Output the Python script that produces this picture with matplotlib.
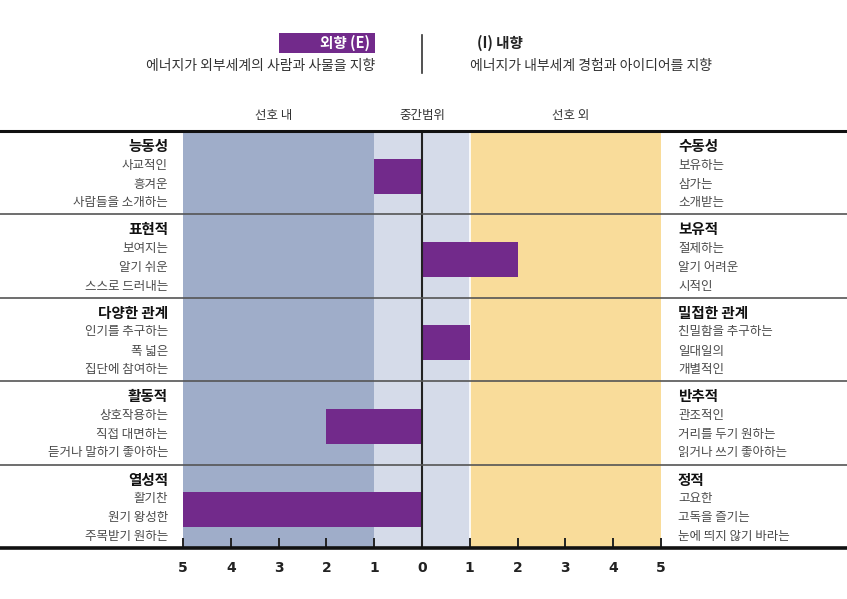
import matplotlib.pyplot as plt
import matplotlib.transforms as mtransforms
from matplotlib.patches import Rectangle

plt.rcParams['font.family'] = ['Noto Sans CJK KR', 'DejaVu Sans']

# 외향(E) 쪽은 음수, 내향(I) 쪽은 양수
scores = [-1, 2, 1, -2, -5]

left_titles = ['능동성', '표현적', '다양한 관계', '활동적', '열성적']
left_words = [
    ['사교적인', '흥겨운', '사람들을 소개하는'],
    ['보여지는', '알기 쉬운', '스스로 드러내는'],
    ['인기를 추구하는', '폭 넓은', '집단에 참여하는'],
    ['상호작용하는', '직접 대면하는', '듣거나 말하기 좋아하는'],
    ['활기찬', '원기 왕성한', '주목받기 원하는'],
]
right_titles = ['수동성', '보유적', '밀접한 관계', '반추적', '정적']
right_words = [
    ['보유하는', '삼가는', '소개받는'],
    ['절제하는', '알기 어려운', '시적인'],
    ['친밀함을 추구하는', '일대일의', '개별적인'],
    ['관조적인', '거리를 두기 원하는', '읽거나 쓰기 좋아하는'],
    ['고요한', '고독을 즐기는', '눈에 띄지 않기 바라는'],
]
ticks = [-5, -4, -3, -2, -1, 0, 1, 2, 3, 4, 5]
tick_labels = ['5', '4', '3', '2', '1', '0', '1', '2', '3', '4', '5']
zone_labels = ['선호 내', '중간범위', '선호 외']
zone_centers = [-3.1, 0, 3.1]

purple = '#722A8B'
blue = '#9FADC9'
pale = '#D5DBE9'
yellow = '#F9DC9A'

W, H = 847, 599
fig = plt.figure(figsize=(W / 100, H / 100), dpi=100)
ax = fig.add_axes([183 / W, 1 - 548 / H, 478 / W, 417 / H])
ax.set_xlim(-5, 5)
ax.set_ylim(5, 0)

# 배경 영역
ax.axvspan(-5, -1, color=blue, lw=0, zorder=0)
ax.axvspan(-1, 1, color=pale, lw=0, zorder=0)
ax.axvspan(1, 5, color=yellow, lw=0, zorder=0)
ax.axvline(1, color='white', lw=1.2, zorder=1)

n = len(scores)
rows = list(range(n))
ax.barh([r + 0.54 for r in rows], scores, height=0.42, color=purple, zorder=2)
ax.axvline(0, color='#222222', lw=1.5, zorder=3)

for s in ax.spines.values():
    s.set_visible(False)

ax.set_xticks(ticks)
ax.set_xticklabels(tick_labels, fontfamily='DejaVu Sans', fontweight='bold', fontsize=10, color='#222222')
ax.tick_params(axis='x', direction='in', length=7, width=1.4, color='#222222', pad=9)
ax.set_yticks([])

trans = mtransforms.blended_transform_factory(fig.transFigure, ax.transData)
# 가로 구분선
ax.plot([0, 1], [0, 0], transform=trans, color='#111111', lw=2.2, clip_on=False, zorder=4)
for r in rows[1:]:
    ax.plot([0, 1], [r, r], transform=trans, color='#555555', lw=1.2, clip_on=False, zorder=4)
ax.plot([0, 1], [n, n], transform=trans, color='#111111', lw=2.6, clip_on=False, zorder=4)

# 행 라벨
offs = [0.18, 0.41, 0.64, 0.86]
for r in rows:
    ax.text(168 / W, r + offs[0], left_titles[r], transform=trans, ha='right', va='center',
            fontsize=10.5, fontweight='bold', color='#111111')
    ax.text(678 / W, r + offs[0], right_titles[r], transform=trans, ha='left', va='center',
            fontsize=10.5, fontweight='bold', color='#111111')
    for k in range(3):
        ax.text(168 / W, r + offs[k + 1], left_words[r][k], transform=trans, ha='right',
                va='center', fontsize=9, color='#4a4a4a')
        ax.text(678 / W, r + offs[k + 1], right_words[r][k], transform=trans, ha='left',
                va='center', fontsize=9, color='#4a4a4a')

# 영역 라벨
ztrans = mtransforms.blended_transform_factory(ax.transData, fig.transFigure)
for lab, cx in zip(zone_labels, zone_centers):
    ax.text(cx, 1 - 115 / H, lab, transform=ztrans, ha='center', va='center',
            fontsize=9, color='#333333')

# 상단 범례
fig.patches.append(Rectangle((279 / W, 1 - 53 / H), 96 / W, 20 / H, transform=fig.transFigure,
                             color=purple, lw=0))
fig.text(370 / W, 1 - 43 / H, '외향 (E)', ha='right', va='center', fontsize=10.5,
         fontweight='bold', color='white')
fig.text(375 / W, 1 - 66 / H, '에너지가 외부세계의 사람과 사물을 지향', ha='right', va='center',
         fontsize=10, color='#333333')
fig.lines.append(plt.Line2D([422 / W, 422 / W], [1 - 35 / H, 1 - 73 / H], transform=fig.transFigure,
                            color='#333333', lw=1.2))
fig.text(477 / W, 1 - 43 / H, '(I) 내향', ha='left', va='center', fontsize=10.5,
         fontweight='bold', color='#222222')
fig.text(470 / W, 1 - 66 / H, '에너지가 내부세계 경험과 아이디어를 지향', ha='left', va='center',
         fontsize=10, color='#333333')

fig.savefig('out.png', dpi=100, facecolor='white')
